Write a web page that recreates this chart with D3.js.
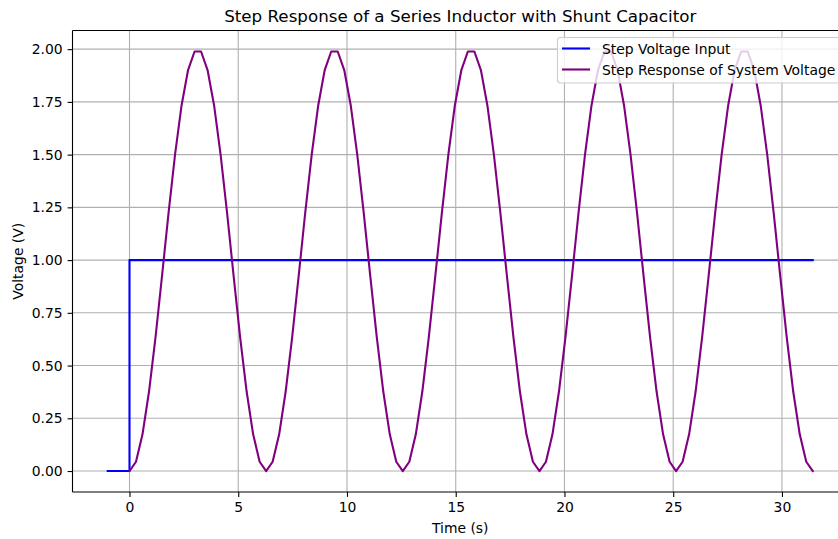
<!DOCTYPE html>
<html>
<head>
<meta charset="utf-8">
<script src="https://cdn.jsdelivr.net/npm/d3@7"></script>
<style>
  html, body { margin: 0; padding: 0; background: #fff; }
  svg { display: block; font-family: "DejaVu Sans", sans-serif; }
</style>
</head>
<body>
<div id="chart"></div>
<script>
// Step input: zero before t = 0, one afterwards
const stepTime  = [-1, 0, 0, 31.416];
const stepValue = [0, 0, 1, 1];

// Sampled capacitor voltage response
const respTime = [
  0, 0.299, 0.598, 0.898, 1.197, 1.496, 1.795, 2.094, 2.394, 2.693,
  2.992, 3.291, 3.590, 3.890, 4.189, 4.488, 4.787, 5.086, 5.386, 5.685,
  5.984, 6.283, 6.582, 6.882, 7.181, 7.480, 7.779, 8.078, 8.378, 8.677,
  8.976, 9.275, 9.574, 9.874, 10.173, 10.472, 10.771, 11.070, 11.370, 11.669,
  11.968, 12.267, 12.566, 12.866, 13.165, 13.464, 13.763, 14.062, 14.362, 14.661,
  14.960, 15.259, 15.558, 15.858, 16.157, 16.456, 16.755, 17.054, 17.354, 17.653,
  17.952, 18.251, 18.550, 18.850, 19.149, 19.448, 19.747, 20.046, 20.346, 20.645,
  20.944, 21.243, 21.542, 21.842, 22.141, 22.440, 22.739, 23.038, 23.338, 23.637,
  23.936, 24.235, 24.535, 24.834, 25.133, 25.432, 25.731, 26.030, 26.330, 26.629,
  26.928, 27.227, 27.527, 27.826, 28.125, 28.424, 28.723, 29.022, 29.322, 29.621,
  29.920, 30.219, 30.518, 30.818, 31.117, 31.416
];
const respValue = [
  0, 0.044, 0.174, 0.377, 0.635, 0.925, 1.223, 1.500, 1.733, 1.901,
  1.989, 1.989, 1.901, 1.733, 1.500, 1.223, 0.925, 0.635, 0.377, 0.174,
  0.044, 0, 0.044, 0.174, 0.377, 0.635, 0.925, 1.223, 1.500, 1.733,
  1.901, 1.989, 1.989, 1.901, 1.733, 1.500, 1.223, 0.925, 0.635, 0.377,
  0.174, 0.044, 0, 0.044, 0.174, 0.377, 0.635, 0.925, 1.223, 1.500,
  1.733, 1.901, 1.989, 1.989, 1.901, 1.733, 1.500, 1.223, 0.925, 0.635,
  0.377, 0.174, 0.044, 0, 0.044, 0.174, 0.377, 0.635, 0.925, 1.223,
  1.500, 1.733, 1.901, 1.989, 1.989, 1.901, 1.733, 1.500, 1.223, 0.925,
  0.635, 0.377, 0.174, 0.044, 0, 0.044, 0.174, 0.377, 0.635, 0.925,
  1.223, 1.500, 1.733, 1.901, 1.989, 1.989, 1.901, 1.733, 1.500, 1.223,
  0.925, 0.635, 0.377, 0.174, 0.044, 0
];

const xTicks = [0, 5, 10, 15, 20, 25, 30];
const yTicks = [0, 0.25, 0.5, 0.75, 1.0, 1.25, 1.5, 1.75, 2.0];

const seriesNames = ["Step Voltage Input", "Step Response of System Voltage"];
const seriesColors = ["#0000ff", "#800080"];

const W = 838, H = 539;
const plot = { left: 72.5, right: 848, top: 30.5, bottom: 492 };

const svg = d3.select("#chart").append("svg")
  .attr("width", W).attr("height", H);

// Axis ranges padded 5% around the data, as in the usual plotting defaults
const xMin = d3.min(stepTime.concat(respTime)), xMax = d3.max(stepTime.concat(respTime));
const yMin = d3.min(stepValue.concat(respValue)), yMax = d3.max(stepValue.concat(respValue));
const xPad = (xMax - xMin) * 0.05, yPad = (yMax - yMin) * 0.05;

const x = d3.scaleLinear().domain([xMin - xPad, xMax + xPad]).range([plot.left, plot.right]);
const y = d3.scaleLinear().domain([yMin - yPad, yMax + yPad]).range([plot.bottom, plot.top]);

// Grid
const grid = svg.append("g");
grid.selectAll(".gx").data(xTicks).join("line")
  .attr("x1", d => x(d)).attr("x2", d => x(d))
  .attr("y1", plot.top).attr("y2", plot.bottom)
  .attr("stroke", "#b0b0b0").attr("stroke-width", 1.1);
grid.selectAll(".gy").data(yTicks).join("line")
  .attr("x1", plot.left).attr("x2", plot.right)
  .attr("y1", d => y(d)).attr("y2", d => y(d))
  .attr("stroke", "#b0b0b0").attr("stroke-width", 1.1);

// Series lines
const clip = svg.append("clipPath").attr("id", "plotclip").append("rect")
  .attr("x", plot.left).attr("y", plot.top)
  .attr("width", plot.right - plot.left).attr("height", plot.bottom - plot.top);

const line = d3.line().x(d => x(d[0])).y(d => y(d[1]));
const lines = svg.append("g").attr("clip-path", "url(#plotclip)");
lines.append("path")
  .datum(stepTime.map((t, i) => [t, stepValue[i]]))
  .attr("d", line).attr("fill", "none")
  .attr("stroke", seriesColors[0]).attr("stroke-width", 2.1)
  .attr("stroke-linejoin", "round").attr("stroke-linecap", "square");
lines.append("path")
  .datum(respTime.map((t, i) => [t, respValue[i]]))
  .attr("d", line).attr("fill", "none")
  .attr("stroke", seriesColors[1]).attr("stroke-width", 2.1)
  .attr("stroke-linejoin", "round").attr("stroke-linecap", "square");

// Axes
const xAxis = svg.append("g").attr("transform", `translate(0,${plot.bottom})`)
  .call(d3.axisBottom(x).tickValues(xTicks).tickFormat(d3.format("d"))
    .tickSize(4.9).tickPadding(4.9).tickSizeOuter(0));
const yAxis = svg.append("g").attr("transform", `translate(${plot.left},0)`)
  .call(d3.axisLeft(y).tickValues(yTicks).tickFormat(d3.format(".2f"))
    .tickSize(4.9).tickPadding(4.9).tickSizeOuter(0));
[xAxis, yAxis].forEach(a => {
  a.select(".domain").remove();
  a.selectAll(".tick line").attr("stroke", "#000").attr("stroke-width", 1.1);
  a.selectAll(".tick text").attr("fill", "#000")
    .style("font-size", "13.9px").style("font-family", "DejaVu Sans");
});

// Frame
const frame = svg.append("g").attr("stroke", "#000").attr("stroke-width", 1.1);
frame.append("line").attr("x1", plot.left).attr("x2", plot.right).attr("y1", plot.top).attr("y2", plot.top);
frame.append("line").attr("x1", plot.left).attr("x2", plot.right).attr("y1", plot.bottom).attr("y2", plot.bottom);
frame.append("line").attr("x1", plot.left).attr("x2", plot.left).attr("y1", plot.top).attr("y2", plot.bottom);
frame.append("line").attr("x1", plot.right).attr("x2", plot.right).attr("y1", plot.top).attr("y2", plot.bottom);

// Titles and labels
const cx = (plot.left + plot.right) / 2;
svg.append("text").attr("x", cx).attr("y", 22)
  .attr("text-anchor", "middle").style("font-size", "16.7px")
  .text("Step Response of a Series Inductor with Shunt Capacitor");
svg.append("text").attr("x", cx).attr("y", 533)
  .attr("text-anchor", "middle").style("font-size", "13.9px")
  .text("Time (s)");
svg.append("text")
  .attr("transform", `translate(23,${(plot.top + plot.bottom) / 2}) rotate(-90)`)
  .attr("text-anchor", "middle").style("font-size", "13.9px")
  .text("Voltage (V)");

// Legend
const lg = svg.append("g");
lg.append("rect")
  .attr("x", 557.5).attr("y", 37.5).attr("width", 283).attr("height", 45.5)
  .attr("rx", 3).attr("fill", "#fff").attr("fill-opacity", 0.8)
  .attr("stroke", "#cccccc").attr("stroke-width", 1.1);
seriesNames.forEach((name, i) => {
  const yy = 48.5 + i * 21;
  lg.append("line").attr("x1", 562).attr("x2", 590).attr("y1", yy).attr("y2", yy)
    .attr("stroke", seriesColors[i]).attr("stroke-width", 2.1);
  lg.append("text").attr("x", 602).attr("y", yy + 5)
    .style("font-size", "13.9px").text(name);
});
</script>
</body>
</html>
